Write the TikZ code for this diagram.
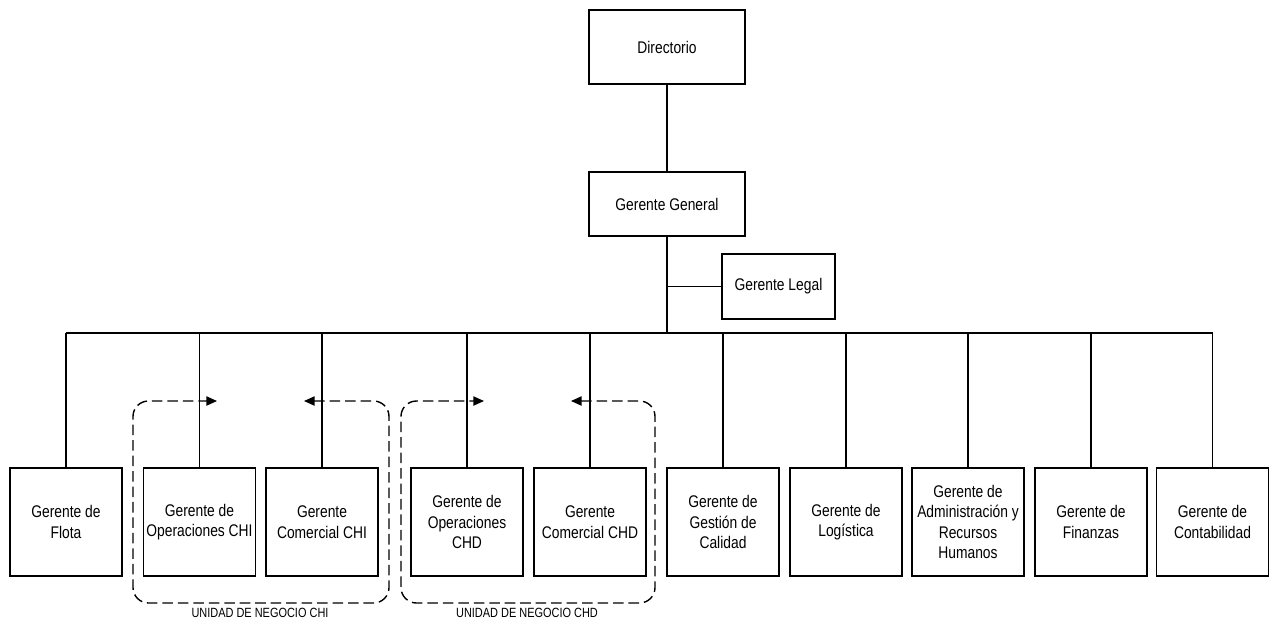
\documentclass[tikz,border=0pt]{standalone}
\usepackage{fontspec}
\setmainfont{Liberation Sans}[FakeStretch=0.82]
\usetikzlibrary{arrows.meta}

\begin{document}
\begin{tikzpicture}[x=0.025cm,y=-0.025cm]%
  \tikzstyle{caja}=[rectangle,draw,line width=1.3pt,align=center,inner sep=1pt,
    minimum width=2.8cm,minimum height=2.7cm,font=\fontsize{12}{14.5}\selectfont]
  \tikzstyle{alta}=[caja,minimum width=3.9cm]
  \tikzstyle{linea}=[line width=1.2pt]
  \tikzstyle{grupo}=[line width=1pt,dash pattern=on 7.5pt off 3.5pt,rounded corners=11pt,
    {Triangle[length=7.5pt,width=6.5pt]}-{Triangle[length=7.5pt,width=6.5pt]}]
  \tikzstyle{rotulo}=[font=\fontsize{9.5}{10}\selectfont,inner sep=0pt]
  \useasboundingbox (0,0) rectangle (1272,621);
  \node(dir)[alta,minimum height=1.85cm] at (667,47) {Directorio};
  \node(gg)[alta,minimum height=1.6cm] at (667,204) {Gerente General};
  \node(legal)[caja,minimum width=2.825cm,minimum height=1.625cm] at (778.5,286.5) {Gerente Legal};
  \coordinate(bar) at (667,333);
  \node(flota)[caja] at (66,522) {Gerente de\\Flota};
  \node(opchi)[caja] at (199.5,522) {Gerente de\\Operaciones CHI};
  \node(cochi)[caja] at (322,522) {Gerente\\Comercial CHI};
  \node(opchd)[caja] at (467,522) {Gerente de\\Operaciones\\CHD};
  \node(cochd)[caja] at (590,522) {Gerente\\Comercial CHD};
  \node(cal)[caja] at (723,522) {Gerente de\\Gestión de\\Calidad};
  \node(log)[caja] at (846,522) {Gerente de\\Logística};
  \node(adm)[caja] at (968,522) {Gerente de\\Administración y\\Recursos\\Humanos};
  \node(fin)[caja] at (1091,522) {Gerente de\\Finanzas};
  \node(cont)[caja] at (1212.5,522) {Gerente de\\Contabilidad};
  \draw[linea] (dir) -- (gg);
  \draw[linea] (gg.south) -- (bar);
  \draw[linea] (gg.south |- legal.west) -- (legal.west);
  \draw[linea] (bar -| flota.north) -- (bar -| cont.north);
  \foreach \n in {flota,opchi,cochi,opchd,cochd,cal,log,adm,fin,cont}
    \draw[linea] (bar -| \n.north) -- (\n.north);
  \draw[grupo] (304,401) -- (389,401) -- (389,603) -- (133,603) -- (133,401) -- (217,401);
  \draw[grupo] (571,401) -- (655,401) -- (655,603) -- (401,603) -- (401,401) -- (484,401);
  \node(uchi)[rotulo] at (260,613) {UNIDAD DE NEGOCIO CHI};
  \node(uchd)[rotulo] at (527,613) {UNIDAD DE NEGOCIO CHD};
\end{tikzpicture}
\end{document}
